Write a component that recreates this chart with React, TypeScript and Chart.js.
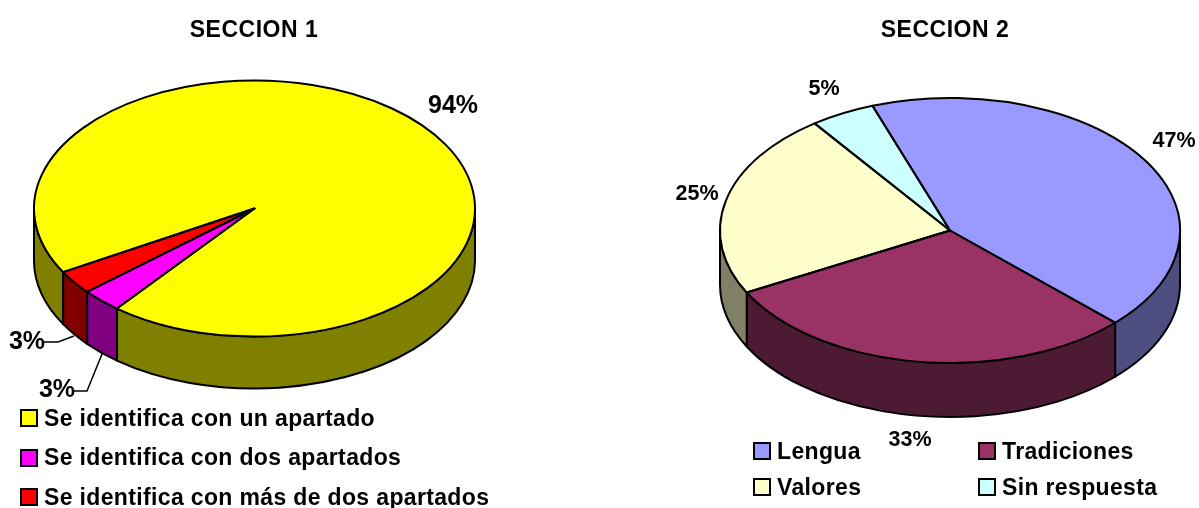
import React, { useEffect, useRef } from "react";
import { Chart, registerables } from "chart.js";

Chart.register(...registerables);

// ---- data ----
const section1Title = "SECCION 1";
const section1Labels = [
  "Se identifica con un apartado",
  "Se identifica con dos apartados",
  "Se identifica con más de dos apartados",
];
const section1Values = [94, 3, 3];
const section1Colors = ["#FFFF00", "#FF00FF", "#FF0000"];
const section1Walls = ["#808000", "#800080", "#800000"];

const section2Title = "SECCION 2";
const section2Labels = ["Lengua", "Tradiciones", "Valores", "Sin respuesta"];
const section2Values = [47, 33, 25, 5];
const section2Colors = ["#9999FF", "#993366", "#FFFFCC", "#CCFFFF"];
const section2Walls = ["#4D4D80", "#4D1A33", "#808066", "#668080"];

// ---- layout ----
const HEIGHT = 508;
const FONT = '"Liberation Sans", Arial, sans-serif';

type Cfg = {
  title: string;
  titleX: number;
  labels: string[];
  values: number[];
  colors: string[];
  walls: string[];
  left: number;
  width: number;
  cx: number;
  cy: number;
  rx: number;
  ry: number;
  depth: number;
  rotation: number;
  pctFont: number;
  pctPos: [number, number][];
  leaders: [number, number][][];
  legendPos: { box: [number, number]; text: [number, number] }[];
};

const configs: Cfg[] = [
  {
    title: section1Title,
    titleX: 254,
    labels: section1Labels,
    values: section1Values,
    colors: section1Colors,
    walls: section1Walls,
    left: 0,
    width: 600,
    cx: 254.5,
    cy: 208.5,
    rx: 220.5,
    ry: 128,
    depth: 52,
    rotation: 240.2,
    pctFont: 25,
    pctPos: [
      [453, 105],
      [57, 389],
      [27, 341],
    ],
    leaders: [
      [
        [74, 391],
        [87, 391],
        [102, 354],
      ],
      [
        [44, 342],
        [58, 342],
        [74, 336],
      ],
    ],
    legendPos: [
      { box: [21, 410], text: [44, 426] },
      { box: [21, 450], text: [44, 465] },
      { box: [21, 489], text: [44, 505] },
    ],
  },
  {
    title: section2Title,
    titleX: 945,
    labels: section2Labels,
    values: section2Values,
    colors: section2Colors,
    walls: section2Walls,
    left: 600,
    width: 599,
    cx: 950,
    cy: 230.5,
    rx: 230,
    ry: 132.5,
    depth: 54,
    rotation: -19.7,
    pctFont: 21.5,
    pctPos: [
      [1174, 140],
      [910, 439],
      [697, 193],
      [824, 88],
    ],
    leaders: [],
    legendPos: [
      { box: [754, 443], text: [777, 459] },
      { box: [979, 443], text: [1002, 459] },
      { box: [754, 479], text: [777, 495] },
      { box: [979, 479], text: [1002, 495] },
    ],
  },
];

function pie3dPlugin(cfg: Cfg) {
  const k = cfg.ry / cfg.rx;
  return {
    id: "pie3d",
    beforeDatasetDraw(chart: any) {
      const ctx = chart.ctx;
      const arcs = chart.getDatasetMeta(0).data;
      const cx = arcs[0].x;
      const rx = arcs[0].outerRadius;
      const ry = rx * k;
      ctx.save();
      ctx.lineWidth = 2;
      ctx.lineJoin = "round";
      ctx.strokeStyle = "#000";
      arcs.forEach((arc: any, i: number) => {
        for (let n = -1; n <= 2; n++) {
          const lo = Math.max(arc.startAngle, 2 * Math.PI * n);
          const hi = Math.min(arc.endAngle, 2 * Math.PI * n + Math.PI);
          if (hi <= lo) continue;
          ctx.beginPath();
          ctx.ellipse(cx, cfg.cy, rx, ry, 0, lo, hi);
          ctx.ellipse(cx, cfg.cy + cfg.depth, rx, ry, 0, hi, lo, true);
          ctx.closePath();
          ctx.fillStyle = cfg.walls[i];
          ctx.fill();
          ctx.stroke();
        }
      });
      ctx.restore();
      // squash the library's round pie into the tilted ellipse
      ctx.save();
      ctx.translate(cx, cfg.cy);
      ctx.scale(1, k);
      ctx.translate(-cx, -arcs[0].y);
    },
    afterDatasetDraw(chart: any) {
      const ctx = chart.ctx;
      ctx.restore();
      const arcs = chart.getDatasetMeta(0).data;
      const cx = arcs[0].x;
      const rx = arcs[0].outerRadius;
      const ry = rx * k;
      ctx.save();
      ctx.lineWidth = 2;
      ctx.lineJoin = "round";
      ctx.strokeStyle = "#000";
      arcs.forEach((arc: any) => {
        ctx.beginPath();
        ctx.moveTo(cx, cfg.cy);
        ctx.ellipse(cx, cfg.cy, rx, ry, 0, arc.startAngle, arc.endAngle);
        ctx.closePath();
        ctx.stroke();
      });
      ctx.restore();
    },
    afterDraw(chart: any) {
      const ctx = chart.ctx;
      const ox = cfg.left;
      ctx.save();
      ctx.fillStyle = "#000";
      // title
      ctx.font = `bold 23px ${FONT}`;
      (ctx as any).letterSpacing = "0.5px";
      ctx.textAlign = "center";
      ctx.textBaseline = "alphabetic";
      ctx.fillText(cfg.title, cfg.titleX - ox, 37);
      // percentage labels
      (ctx as any).letterSpacing = "0px";
      ctx.font = `bold ${cfg.pctFont}px ${FONT}`;
      ctx.textBaseline = "middle";
      cfg.values.forEach((v, i) => {
        const [x, y] = cfg.pctPos[i];
        ctx.fillText(`${v}%`, x - ox, y + 1);
      });
      // leader lines
      ctx.strokeStyle = "#000";
      ctx.lineWidth = 1.5;
      cfg.leaders.forEach((pts) => {
        ctx.beginPath();
        pts.forEach(([x, y], j) => (j ? ctx.lineTo(x - ox, y) : ctx.moveTo(x - ox, y)));
        ctx.stroke();
      });
      // legend
      ctx.textAlign = "left";
      ctx.textBaseline = "alphabetic";
      ctx.font = `bold 23px ${FONT}`;
      (ctx as any).letterSpacing = "0.35px";
      cfg.labels.forEach((label, i) => {
        const p = cfg.legendPos[i];
        ctx.fillStyle = cfg.colors[i];
        ctx.fillRect(p.box[0] - ox, p.box[1], 16, 16);
        ctx.lineWidth = 2;
        ctx.strokeRect(p.box[0] - ox, p.box[1], 16, 16);
        ctx.fillStyle = "#000";
        ctx.fillText(label, p.text[0] - ox, p.text[1]);
      });
      ctx.restore();
    },
  };
}

function PieCanvas({ cfg }: { cfg: Cfg }) {
  const ref = useRef<HTMLCanvasElement>(null);
  useEffect(() => {
    const localCx = cfg.cx - cfg.left;
    const pad = (HEIGHT - 2 * cfg.rx) / 2;
    const chart = new Chart(ref.current!, {
      type: "pie",
      data: {
        labels: cfg.labels,
        datasets: [
          {
            data: cfg.values,
            backgroundColor: cfg.colors,
            borderWidth: 0,
          },
        ],
      },
      options: {
        responsive: false,
        animation: false,
        rotation: cfg.rotation,
        layout: {
          padding: {
            left: localCx - cfg.rx,
            right: cfg.width - localCx - cfg.rx,
            top: pad,
            bottom: pad,
          },
        },
        plugins: { legend: { display: false }, title: { display: false }, tooltip: { enabled: false } },
      },
      plugins: [pie3dPlugin(cfg)],
    } as any);
    return () => chart.destroy();
  }, [cfg]);
  return (
    <canvas
      ref={ref}
      width={cfg.width}
      height={HEIGHT}
      style={{ position: "absolute", left: cfg.left, top: 0, width: cfg.width, height: HEIGHT, display: "block" }}
    />
  );
}

export default function App() {
  useEffect(() => {
    document.body.style.margin = "0";
    document.body.style.background = "#fff";
  }, []);
  return (
    <div style={{ position: "relative", width: 1199, height: HEIGHT, overflow: "hidden", background: "#fff" }}>
      {configs.map((c) => (
        <PieCanvas key={c.title} cfg={c} />
      ))}
    </div>
  );
}
